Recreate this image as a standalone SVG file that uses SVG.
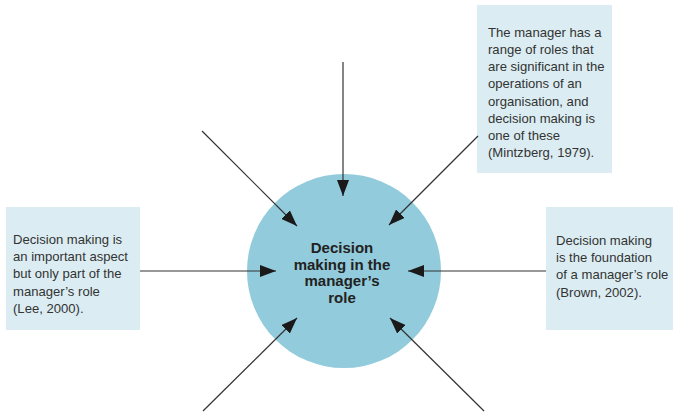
<svg xmlns="http://www.w3.org/2000/svg" width="673" height="414" viewBox="0 0 673 414">
<defs>
<style>
.box{fill:#dbedf2}
.bt{font-family:"Liberation Sans",Arial,sans-serif;font-size:13.1px;fill:#333}
.ct{font-family:"Liberation Sans",Arial,sans-serif;font-size:15px;font-weight:bold;fill:#222;text-anchor:middle}
.ar{stroke:#333;stroke-width:1.2;fill:none;marker-end:url(#ah)}
</style>
<marker id="ah" markerWidth="16" markerHeight="12" refX="16" refY="6" orient="auto" markerUnits="userSpaceOnUse">
<path d="M0,0 L16,6 L0,12 Z" fill="#1a1a1a"/>
</marker>
</defs>
<rect width="673" height="414" fill="#fff"/>
<g id="center">
<circle cx="344" cy="271" r="97" fill="#92cbdb"/>
<text class="ct"><tspan x="342" y="253">Decision</tspan><tspan x="342" y="269.5">making in the</tspan><tspan x="342" y="286">manager’s</tspan><tspan x="342" y="302.5">role</tspan></text>
</g>
<g id="box-mintzberg">
<rect class="box" x="477" y="5" width="135" height="168"/>
<text class="bt"><tspan x="488" y="37">The manager has a</tspan><tspan x="488" y="54.1">range of roles that</tspan><tspan x="488" y="71.3">are significant in the</tspan><tspan x="488" y="88.4">operations of an</tspan><tspan x="488" y="105.6">organisation, and</tspan><tspan x="488" y="122.7">decision making is</tspan><tspan x="488" y="139.9">one of these</tspan><tspan x="488" y="157">(Mintzberg, 1979).</tspan></text>
</g>
<g id="box-lee">
<rect class="box" x="6" y="207" width="134" height="123"/>
<text class="bt"><tspan x="13" y="244">Decision making is</tspan><tspan x="13" y="261.2">an important aspect</tspan><tspan x="13" y="278.4">but only part of the</tspan><tspan x="13" y="295.6">manager’s role</tspan><tspan x="13" y="312.8">(Lee, 2000).</tspan></text>
</g>
<g id="box-brown">
<rect class="box" x="546" y="207" width="127" height="123"/>
<text class="bt"><tspan x="556" y="245">Decision making</tspan><tspan x="556" y="262.2">is the foundation</tspan><tspan x="556" y="279.4">of a manager’s role</tspan><tspan x="556" y="296.6">(Brown, 2002).</tspan></text>
</g>
<g id="connectors">
<line class="ar" x1="343" y1="62" x2="343" y2="196"/>
<line class="ar" x1="202" y1="131" x2="297" y2="226"/>
<line class="ar" x1="478" y1="136" x2="389" y2="225"/>
<line class="ar" x1="140" y1="271" x2="276" y2="271"/>
<line class="ar" x1="546" y1="271" x2="408" y2="271"/>
<line class="ar" x1="203" y1="411" x2="297" y2="318"/>
<line class="ar" x1="484" y1="411" x2="390" y2="318"/>
</g>
</svg>
